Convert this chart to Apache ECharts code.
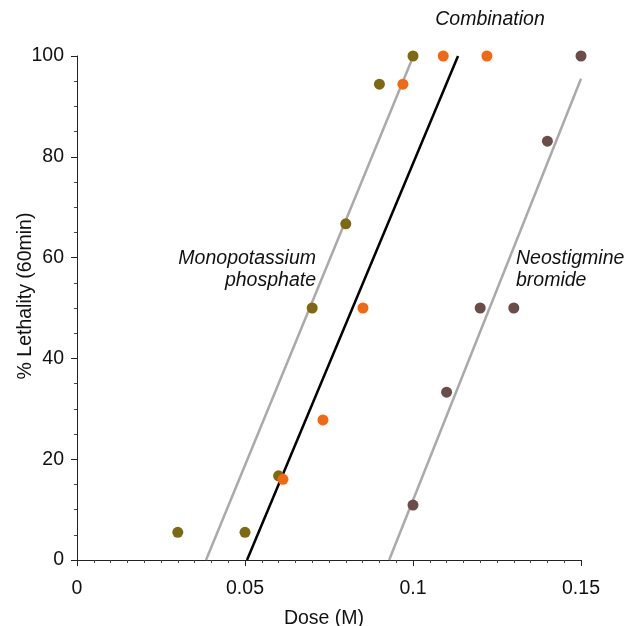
<!DOCTYPE html>
<html>
<head>
<meta charset="utf-8">
<script src="https://cdn.jsdelivr.net/npm/echarts@6/dist/echarts.min.js"></script>
<style>html,body{margin:0;padding:0;background:#fff}#c{width:624px;height:626px}</style>
</head>
<body>
<div id="c"></div>
<script>
// Data
const monoPoints = [[0.03,5.5],[0.05,5.5],[0.06,16.7],[0.07,50],[0.08,66.7],[0.09,94.4],[0.1,100]];
const comboPoints = [[0.0613,16],[0.0732,27.8],[0.0851,50],[0.097,94.4],[0.109,100],[0.122,100]];
const neoPoints = [[0.1,10.9],[0.11,33.3],[0.12,50],[0.13,50],[0.14,83.1],[0.15,100]];
const monoLine = [[0.0384,0],[0.0995,99]];
const comboLine = [[0.0506,0],[0.1134,100]];
const neoLine = [[0.0929,0],[0.15,95.5]];
const xTicks = [0,0.05,0.1,0.15];
const yTicks = [0,20,40,60,80,100];

const FONT = 'Liberation Sans, Arial, sans-serif';
const FS = 19.5;
const chart = echarts.init(document.getElementById('c'));
const axisCommon = {
  axisLine:{show:true,onZero:false,lineStyle:{color:'#222',width:1}},
  axisTick:{show:true,inside:false,length:6,lineStyle:{color:'#222'}},
  minorTick:{show:true,length:3,lineStyle:{color:'#444'}},
  splitLine:{show:false},
  axisLabel:{color:'#111',fontSize:FS,fontFamily:FONT},
  nameTextStyle:{color:'#111',fontSize:FS,fontFamily:FONT},
  nameMoveOverlap:false
};
chart.setOption({
  animation:false,
  backgroundColor:'#fff',
  grid:{left:77,right:43,top:56,bottom:66,containLabel:false,outerBoundsMode:'none'},
  xAxis:Object.assign({},axisCommon,{
    type:'value',min:0,max:0.15,interval:0.05,
    minorTick:Object.assign({},axisCommon.minorTick,{splitNumber:10}),
    name:'Dose (M)',nameLocation:'middle',nameGap:49,
    nameTextStyle:Object.assign({},axisCommon.nameTextStyle,{padding:[0,10,0,0]}),
    axisLabel:Object.assign({},axisCommon.axisLabel,{margin:19,formatter:v=>String(+v.toFixed(2))})
  }),
  yAxis:Object.assign({},axisCommon,{
    type:'value',min:0,max:100,interval:20,
    minorTick:Object.assign({},axisCommon.minorTick,{splitNumber:4}),
    name:'% Lethality (60min)',nameLocation:'middle',nameGap:41,
    nameTextStyle:Object.assign({},axisCommon.nameTextStyle,{padding:[0,0,0,24]}),
    axisLabel:Object.assign({},axisCommon.axisLabel,{margin:13})
  }),
  series:[
    {type:'line',data:monoLine,symbol:'none',lineStyle:{color:'#aaaaaa',width:2.5},z:1},
    {type:'line',data:neoLine,symbol:'none',lineStyle:{color:'#aaaaaa',width:2.5},z:1},
    {type:'line',data:comboLine,symbol:'none',lineStyle:{color:'#000000',width:2.5},z:1},
    {type:'scatter',data:monoPoints,symbolSize:11,itemStyle:{color:'#7d6a10',opacity:1},z:3},
    {type:'scatter',data:comboPoints,symbolSize:11,itemStyle:{color:'#f26710',opacity:1},z:3},
    {type:'scatter',data:neoPoints,symbolSize:11,itemStyle:{color:'#6a4d48',opacity:1},z:3}
  ],
  graphic:[
    {type:'text',style:{text:'Combination',x:490,y:20,align:'center',verticalAlign:'middle',font:'italic '+FS+'px '+FONT,fill:'#111'}},
    {type:'text',style:{text:'Monopotassium\nphosphate',x:316,y:270,align:'right',verticalAlign:'middle',lineHeight:22,font:'italic '+FS+'px '+FONT,fill:'#111'}},
    {type:'text',style:{text:'Neostigmine\nbromide',x:516,y:270,align:'left',verticalAlign:'middle',lineHeight:22,font:'italic '+FS+'px '+FONT,fill:'#111'}}
  ]
});
</script>
</body>
</html>
